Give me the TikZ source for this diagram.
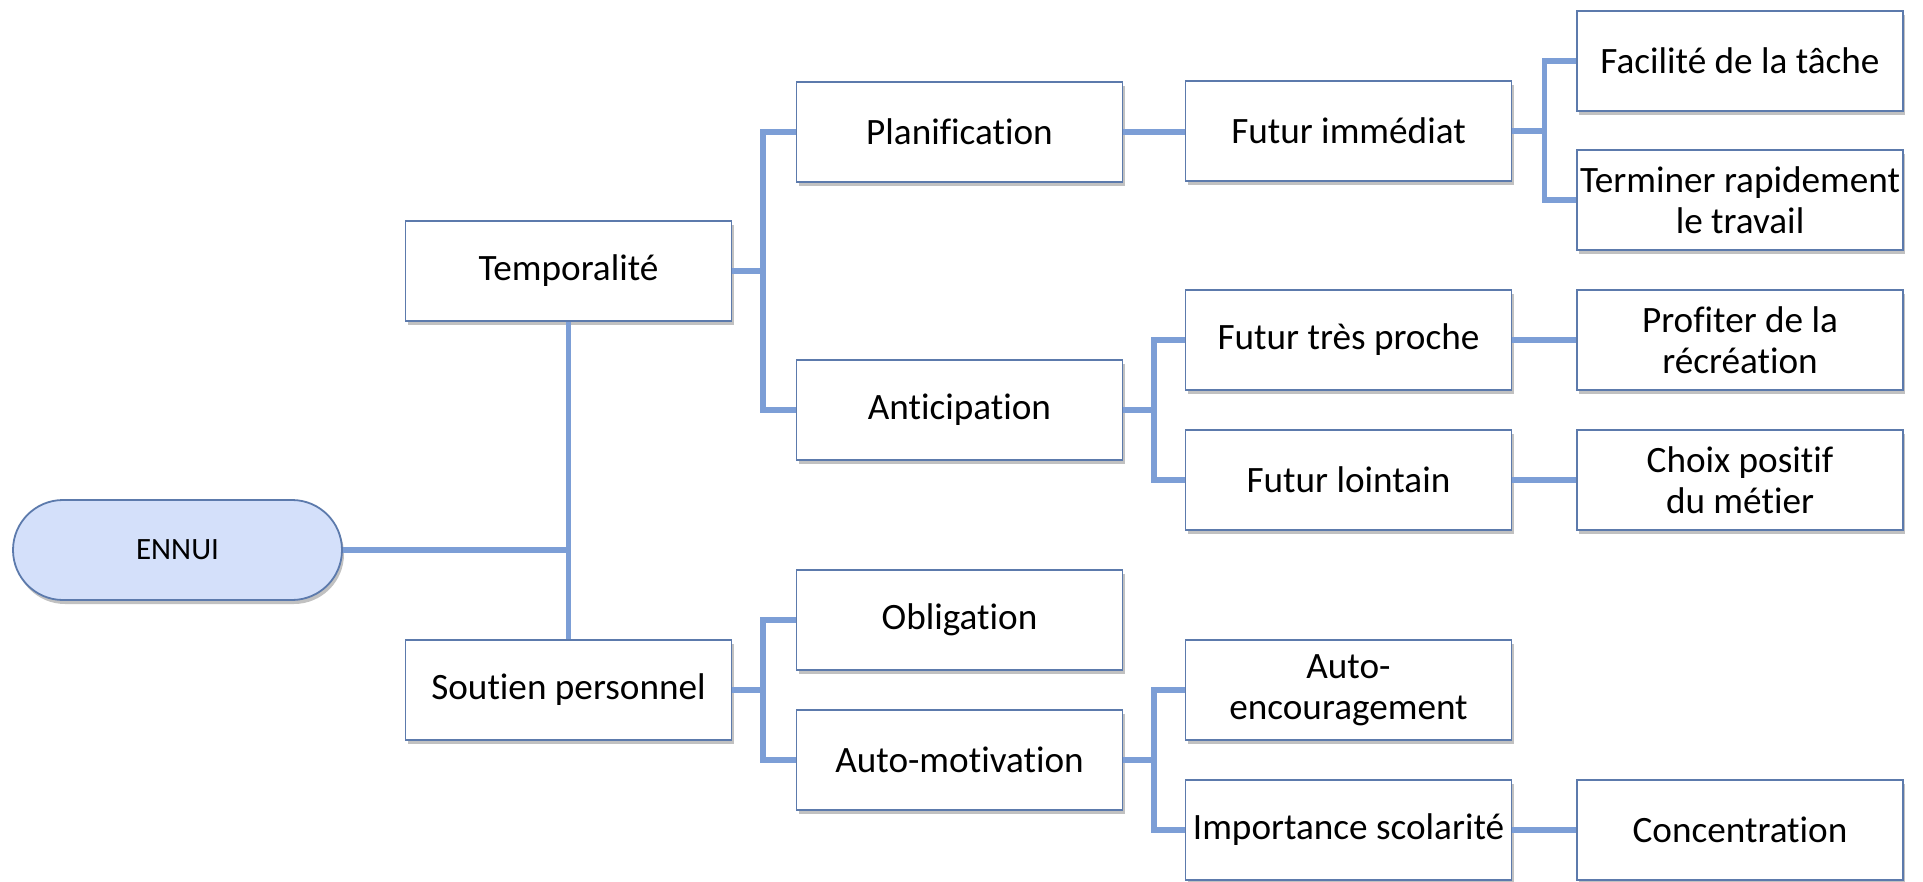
\documentclass[tikz,border=0pt]{standalone}
\usepackage{fontspec}
\setmainfont{Carlito}[Ligatures=NoCommon]
\usetikzlibrary{shadows}
\definecolor{linkblue}{RGB}{124,158,214}
\definecolor{edgeblue}{RGB}{92,122,172}
\definecolor{rootfill}{RGB}{212,224,250}
\tikzset{
  px/.style={x=0.5pt,y=-0.5pt},
  card/.style={draw=edgeblue, line width=0.9pt, fill=white, rectangle,
    minimum width=163pt, minimum height=50pt, inner sep=1pt,
    align=center, font=\fontsize{18.6}{20.5}\selectfont, text=black,
    drop shadow={shadow xshift=1pt, shadow yshift=-2pt, opacity=0.35, fill=black!70}},
  rootbox/.style={draw=edgeblue, line width=0.9pt, fill=rootfill, rectangle,
    rounded corners=25pt, minimum width=164.5pt, minimum height=50pt,
    font=\fontsize{15.5}{17}\selectfont, text=black,
    drop shadow={shadow xshift=1pt, shadow yshift=-2pt, opacity=0.35, fill=black!70}},
  link/.style={draw=linkblue, line width=2.8pt, line join=miter}
}
\begin{document}
\begin{tikzpicture}[px]
\useasboundingbox (0,0) rectangle (1923,882);

% tree nodes, column by column
\node[rootbox] (ennui) at (177.5,550) {ENNUI};

\node[card] (temp) at (568.5,271) {Temporalité};
\node[card] (sout) at (568.5,690) {Soutien personnel};

\node[card] (plan) at (959.5,132) {Planification};
\node[card] (anti) at (959.5,410) {Anticipation};
\node[card] (obli) at (959.5,620) {Obligation};
\node[card] (amot) at (959.5,760) {Auto-motivation};

\node[card] (fimm) at (1348.5,131) {Futur immédiat};
\node[card] (fpro) at (1348.5,340) {Futur très proche};
\node[card] (floi) at (1348.5,480) {Futur lointain};
\node[card] (aenc) at (1348.5,690) {Auto-\\encouragement};
\node[card] (imps) at (1348.5,830) {Importance scolarité};

\node[card] (faci) at (1740,61) {Facilité de la tâche};
\node[card] (term) at (1740,200) {Terminer rapidement\\le travail};
\node[card] (prof) at (1740,340) {Profiter de la\\récréation};
\node[card] (choi) at (1740,480) {Choix positif\\du métier};
\node[card] (conc) at (1740,830) {Concentration};

% bus lines of the elbow connectors
\coordinate (busA) at (763,0);
\coordinate (busB) at (1154,0);
\coordinate (busC) at (1544.5,0);

% root to first level
\draw[link] (temp.south) -- (sout.north);
\draw[link] (ennui.east) -- (ennui.east -| temp.south);

% first level to second level
\draw[link] (temp.east) -- (temp.east -| busA);
\draw[link] (plan.west) -- (plan.west -| busA) -- (anti.west -| busA) -- (anti.west);
\draw[link] (sout.east) -- (sout.east -| busA);
\draw[link] (obli.west) -- (obli.west -| busA) -- (amot.west -| busA) -- (amot.west);

% second level to third level
\draw[link] (plan.east) -- (plan.east -| fimm.west);
\draw[link] (anti.east) -- (anti.east -| busB);
\draw[link] (fpro.west) -- (fpro.west -| busB) -- (floi.west -| busB) -- (floi.west);
\draw[link] (amot.east) -- (amot.east -| busB);
\draw[link] (aenc.west) -- (aenc.west -| busB) -- (imps.west -| busB) -- (imps.west);

% third level to fourth level
\draw[link] (fimm.east) -- (fimm.east -| busC);
\draw[link] (faci.west) -- (faci.west -| busC) -- (term.west -| busC) -- (term.west);
\draw[link] (fpro.east) -- (prof.west);
\draw[link] (floi.east) -- (choi.west);
\draw[link] (imps.east) -- (conc.west);
\end{tikzpicture}
\end{document}
